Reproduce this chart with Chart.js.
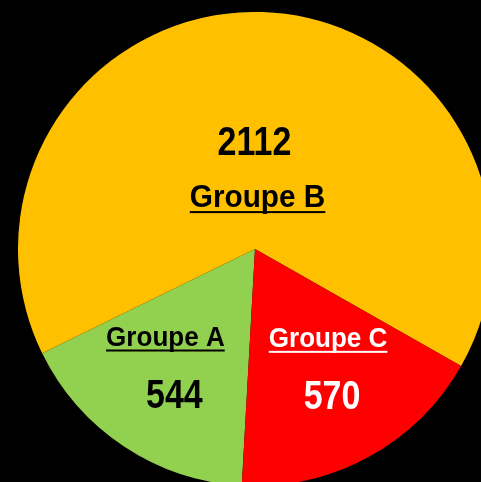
<!DOCTYPE html>
<html lang="fr">
<head>
  <meta charset="UTF-8">
  <title>Répartition par groupe</title>
  <script src="https://cdn.jsdelivr.net/npm/chart.js"></script>
  <style>
    html, body {
      margin: 0;
      padding: 0;
      width: 481px;
      height: 482px;
      background: #000;
      overflow: hidden;
    }

    /* the pie is bigger than the window and is cut on the right and bottom */
    .pie-box {
      position: absolute;
      left: 18px;
      top: 12px;
      width: 474px;
      height: 474px;
    }
  </style>
</head>
<body>

  <div class="pie-box">
    <canvas id="camembert"></canvas>
  </div>

  <script>
    const categories = ['Groupe A', 'Groupe B', 'Groupe C'];
    const values = [544, 2112, 570];
    const sliceColors = ['#92D050', '#FFC000', '#FF0000'];
    const textColors = ['#000000', '#000000', '#FFFFFF'];

    // where each label block sits: a point on the slice's middle angle
    // (fraction of the radius), then offsets of the two text baselines
    const labelPlacement = [
      { frac: 0.6,  name: { dx: -11, dy: -22, size: 28 }, value: { dx: -2, dy: 40, size: 41 } },
      { frac: 0.35, name: { dx: 0,   dy: 41,  size: 32 }, value: { dx: -3, dy: -11, size: 41 } },
      { frac: 0.6,  name: { dx: 5,   dy: -27, size: 28 }, value: { dx: 9,  dy: 35, size: 41 } }
    ];

    // no narrow font installed: squeeze the bold sans horizontally instead
    const FONT = '"Liberation Sans Narrow", "Liberation Sans", Arial, sans-serif';
    const NAME_STRETCH = 0.93;
    const VALUE_STRETCH = 0.83;

    function drawText(ctx, text, x, y, size, color, stretch, underline) {
      ctx.save();
      ctx.font = 'bold ' + size + 'px ' + FONT;
      ctx.fillStyle = color;
      ctx.textAlign = 'center';
      ctx.textBaseline = 'alphabetic';
      ctx.translate(x, y);
      ctx.scale(stretch, 1);
      ctx.fillText(text, 0, 0);
      if (underline) {
        const w = ctx.measureText(text).width;
        ctx.fillRect(-w / 2, 4, w, 2);
      }
      ctx.restore();
    }

    const etiquettes = {
      id: 'etiquettes',
      afterDatasetsDraw(chart) {
        const ctx = chart.ctx;
        const meta = chart.getDatasetMeta(0);
        meta.data.forEach(function (arc, i) {
          const p = arc.getProps(['x', 'y', 'startAngle', 'endAngle', 'outerRadius'], true);
          const mid = (p.startAngle + p.endAngle) / 2;
          const place = labelPlacement[i];
          const ax = p.x + Math.cos(mid) * p.outerRadius * place.frac;
          const ay = p.y + Math.sin(mid) * p.outerRadius * place.frac;
          drawText(ctx, categories[i], ax + place.name.dx, ay + place.name.dy,
                   place.name.size, textColors[i], NAME_STRETCH, true);
          drawText(ctx, String(values[i]), ax + place.value.dx, ay + place.value.dy,
                   place.value.size, textColors[i], VALUE_STRETCH, false);
        });
      }
    };

    const ctx = document.getElementById('camembert').getContext('2d');
    new Chart(ctx, {
      type: 'pie',
      data: {
        labels: categories,
        datasets: [{
          data: values,
          backgroundColor: sliceColors,
          borderWidth: 0,
          hoverOffset: 0
        }]
      },
      options: {
        responsive: true,
        maintainAspectRatio: false,
        animation: false,
        rotation: 183.2,
        layout: { padding: 0 },
        plugins: {
          legend: { display: false },
          tooltip: { enabled: false }
        }
      },
      plugins: [etiquettes]
    });
  </script>

</body>
</html>
